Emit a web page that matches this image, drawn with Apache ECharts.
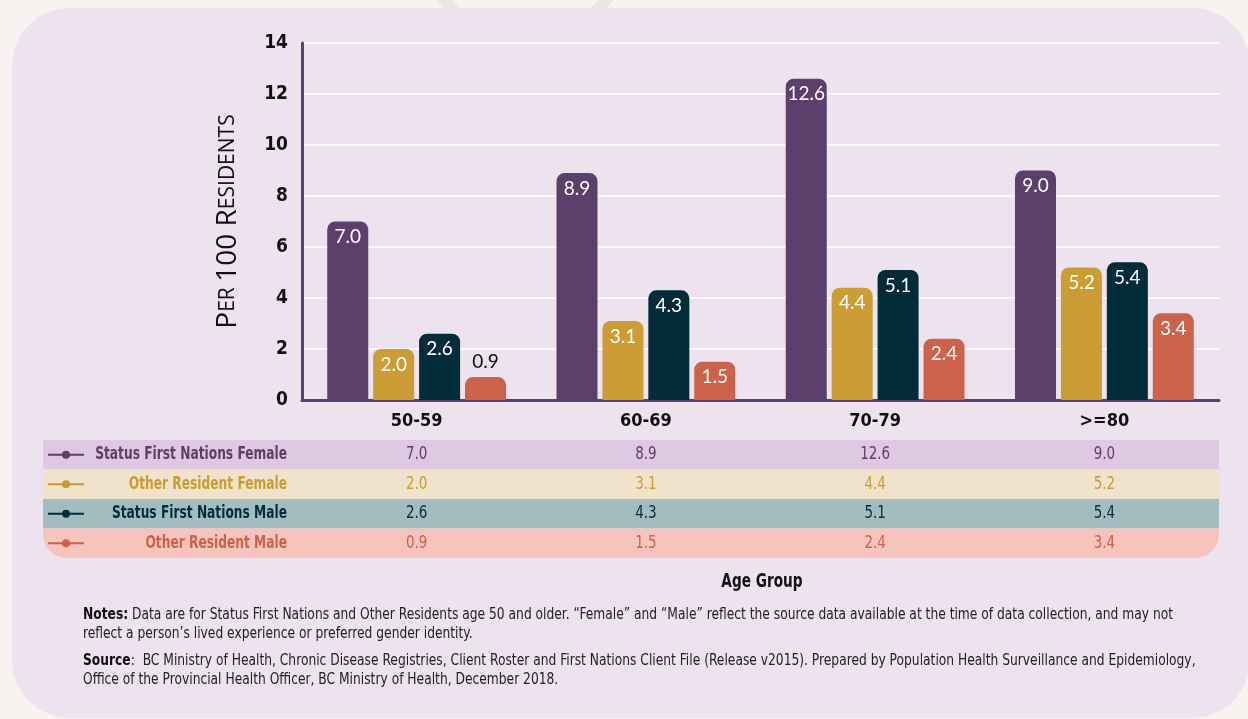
<!DOCTYPE html>
<html>
<head>
<meta charset="utf-8">
<script src="https://cdn.jsdelivr.net/npm/echarts@6/dist/echarts.min.js"></script>
<style>
html,body{margin:0;padding:0;background:#f6f3f1;}
#c{width:1248px;height:719px;}
</style>
</head>
<body>
<div id="c"></div>
<script>
// ---- data ----
var categories = ['50-59', '60-69', '70-79', '>=80'];
var seriesNames = ['Status First Nations Female', 'Other Resident Female', 'Status First Nations Male', 'Other Resident Male'];
var sfnFemale = [7.0, 8.9, 12.6, 9.0];
var otherFemale = [2.0, 3.1, 4.4, 5.2];
var sfnMale = [2.6, 4.3, 5.1, 5.4];
var otherMale = [0.9, 1.5, 2.4, 3.4];
var yTicks = [0, 2, 4, 6, 8, 10, 12, 14];
var values = [sfnFemale, otherFemale, sfnMale, otherMale];

// ---- styles ----
var barColors = ['#5c3f6b', '#cc9d35', '#032c3a', '#cb6249'];
var textColors = ['#5c4069', '#c99c33', '#022d3a', '#c9634a'];
var rowColors = ['#dfc8e2', '#f1e3cb', '#a2bcc0', '#f7c4bd'];
var COND = '"Liberation Sans Narrow","DejaVu Sans Condensed","Roboto",sans-serif';
var GEO = 'Lato,"Open Sans",sans-serif';
var TITLE = '"Open Sans",Lato,sans-serif';

var chart = echarts.init(document.getElementById('c'), null, {renderer: 'canvas'});

var series = values.map(function (arr, si) {
  return {
    name: seriesNames[si],
    type: 'bar',
    barWidth: 41,
    barGap: '12%',
    itemStyle: {color: barColors[si], borderRadius: [8, 8, 0, 0]},
    label: {
      show: true, position: 'insideTop', distance: 6,
      color: '#ffffff', fontFamily: GEO, fontSize: 19,
      formatter: function (p) { return p.value.toFixed(1); }
    },
    data: arr.map(function (v) {
      if (v < 1) {
        return {value: v, label: {position: 'top', color: '#111', distance: 6}};
      }
      return v;
    })
  };
});

var option = {
  backgroundColor: '#f6f3f1',
  animation: false,
  grid: {left: 302, top: 43, right: 29, bottom: 319, containLabel: false},
  xAxis: {
    type: 'category', data: categories,
    axisLine: {lineStyle: {color: '#5c4069', width: 3}},
    axisTick: {show: false},
    axisLabel: {color: '#111', fontFamily: COND, fontWeight: 'bold', fontSize: 18, margin: 12}
  },
  yAxis: {
    type: 'value', min: yTicks[0], max: yTicks[yTicks.length - 1], interval: 2,
    axisLine: {show: true, lineStyle: {color: '#5c4069', width: 3}},
    axisTick: {show: false},
    splitLine: {lineStyle: {color: '#ffffff', width: 1.5}},
    axisLabel: {color: '#111', fontFamily: COND, fontWeight: 'bold', fontSize: 19, margin: 14},
    name: '{a|P}{b|ER }{a|100 R}{b|ESIDENTS}',
    nameLocation: 'middle', nameRotate: 90, nameGap: 60,
    nameTextStyle: {
      color: '#111',
      rich: {
        a: {fontFamily: TITLE, fontSize: 28, color: '#111'},
        b: {fontFamily: TITLE, fontSize: 21, color: '#111'}
      }
    }
  },
  series: series
};
chart.setOption(option);

// ---- decorations & table built from the arrays ----
function buildGraphic() {
  var g = [];
  g.push({type: 'circle', z: -20, silent: true, shape: {cx: 525, cy: -62, r: 102},
    style: {fill: 'none', stroke: '#e9e6e4', lineWidth: 12}});
  g.push({type: 'rect', z: -10, silent: true, shape: {x: 12, y: 8, width: 1238, height: 710, r: 58},
    style: {fill: '#ede3ef'}});

  var tableLeft = 43, tableRight = 1219, rowTop = 440, rowH = 29.5;
  rowColors.forEach(function (c, i) {
    var last = i === rowColors.length - 1;
    g.push({type: 'rect', z: -5, silent: true,
      shape: {x: tableLeft, y: rowTop + i * rowH, width: tableRight - tableLeft, height: rowH,
        r: last ? [0, 0, 24, 24] : 0},
      style: {fill: c}});
  });
  seriesNames.forEach(function (name, i) {
    var cy = rowTop + i * rowH + rowH / 2;
    g.push({type: 'line', shape: {x1: 48, y1: cy, x2: 84, y2: cy}, style: {stroke: textColors[i], lineWidth: 2}});
    g.push({type: 'circle', shape: {cx: 66, cy: cy, r: 4}, style: {fill: textColors[i]}});
    g.push({type: 'text', x: 287, y: cy, scaleX: 0.8, style: {text: name, align: 'right', verticalAlign: 'middle',
      fill: textColors[i], fontFamily: COND, fontWeight: 'bold', fontSize: 17}});
    values[i].forEach(function (v, ci) {
      var px = chart.convertToPixel({xAxisIndex: 0}, categories[ci]);
      g.push({type: 'text', x: px, y: cy, scaleX: 0.88, style: {text: v.toFixed(1), align: 'center', verticalAlign: 'middle',
        fill: textColors[i], fontFamily: COND, fontSize: 17}});
    });
  });
  g.push({type: 'text', x: 762, y: 582, scaleX: 0.8, style: {text: 'Age Group', align: 'center', verticalAlign: 'middle',
    fill: '#111', fontFamily: COND, fontWeight: 'bold', fontSize: 19}});

  var richB = {b: {fontFamily: COND, fontWeight: 'bold', fontSize: 15, fill: '#111'}};
  var noteStyle = function (t, rich) {
    var s = {text: t, verticalAlign: 'middle', fontFamily: COND, fontSize: 15, fill: '#222'};
    if (rich) s.rich = rich;
    return s;
  };
  g.push({type: 'text', x: 83, y: 615, scaleX: 0.91, style: noteStyle('{b|Notes:} Data are for Status First Nations and Other Residents age 50 and older. \u201cFemale\u201d and \u201cMale\u201d reflect the source data available at the time of data collection, and may not', richB)});
  g.push({type: 'text', x: 83, y: 634, scaleX: 0.91, style: noteStyle('reflect a person\u2019s lived experience or preferred gender identity.')});
  g.push({type: 'text', x: 83, y: 661, scaleX: 0.91, style: noteStyle('{b|Source}:  BC Ministry of Health, Chronic Disease Registries, Client Roster and First Nations Client File (Release v2015). Prepared by Population Health Surveillance and Epidemiology,', richB)});
  g.push({type: 'text', x: 83, y: 680, scaleX: 0.91, style: noteStyle('Office of the Provincial Health Officer, BC Ministry of Health, December 2018.')});
  return g;
}
chart.setOption({graphic: buildGraphic()});
</script>
</body>
</html>
